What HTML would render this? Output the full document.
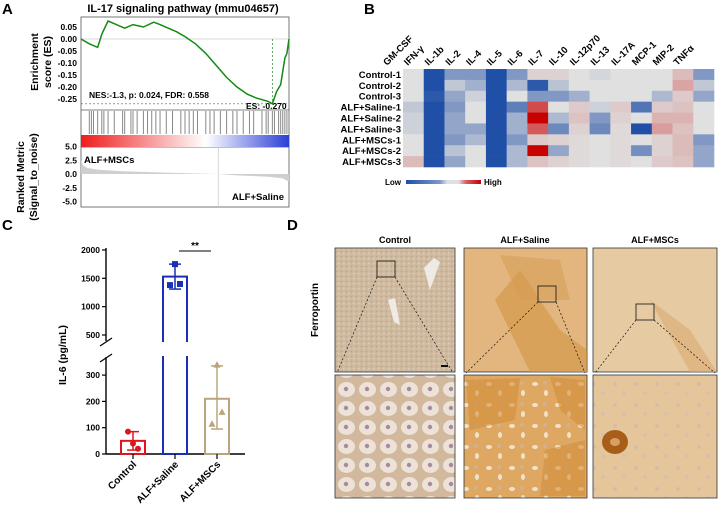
<!DOCTYPE html>
<html><head><meta charset="utf-8"><style>
body{margin:0;background:#fff;}
svg{display:block;font-family:"Liberation Sans",Arial,sans-serif;}
</style></head><body>
<svg id="fig" width="721" height="509" viewBox="0 0 721 509" xmlns="http://www.w3.org/2000/svg">
<defs>
<linearGradient id="rb" x1="0" x2="1"><stop offset="0" stop-color="#ee1c1c"/><stop offset="0.6" stop-color="#ffffff"/><stop offset="1" stop-color="#2b3fd6"/></linearGradient>
<linearGradient id="lg" x1="0" x2="1"><stop offset="0" stop-color="#1f4fa6"/><stop offset="0.45" stop-color="#7d97c9"/><stop offset="0.55" stop-color="#e0e0e0"/><stop offset="0.7" stop-color="#e0e0e0"/><stop offset="0.8" stop-color="#d96060"/><stop offset="1" stop-color="#c00000"/></linearGradient>
<pattern id="pCtl" width="21" height="19" patternUnits="userSpaceOnUse">
<rect width="21" height="19" fill="#d2b89c"/>
<ellipse cx="10.5" cy="9.5" rx="8.5" ry="7.5" fill="#ece2d8"/>
<circle cx="10" cy="9" r="2.2" fill="#a88a9c"/>
</pattern>
<pattern id="pSal" width="23" height="21" patternUnits="userSpaceOnUse">
<rect width="23" height="21" fill="#dfa862"/>
<ellipse cx="6" cy="6" rx="3" ry="2" fill="#f1e2cc"/>
<ellipse cx="17" cy="15" rx="2" ry="3" fill="#f1e2cc"/>
<circle cx="16" cy="5" r="2" fill="#d2b090"/>
</pattern>
<pattern id="pMsc" width="21" height="21" patternUnits="userSpaceOnUse">
<rect width="21" height="21" fill="#e5c69a"/>
<circle cx="6" cy="6" r="2" fill="#d6bca8"/>
<circle cx="15" cy="15" r="2" fill="#d8c0ac"/>
</pattern>
<pattern id="pCtlLow" width="5" height="5" patternUnits="userSpaceOnUse">
<rect width="5" height="5" fill="#cfbaa0"/><circle cx="1.5" cy="1.5" r="0.8" fill="#bda282"/><circle cx="3.8" cy="3.6" r="0.8" fill="#ddd0c0"/>
</pattern>
</defs>
<g font-weight="bold" font-size="15">
<text x="2" y="14">A</text>
<text x="364" y="14">B</text>
<text x="2" y="230">C</text>
<text x="287" y="230">D</text>
</g>
<g id="pa">
<text x="183" y="12" text-anchor="middle" font-weight="bold" font-size="11">IL-17 signaling pathway (mmu04657)</text>
<rect x="81" y="17" width="208" height="190" fill="none" stroke="#555" stroke-width="0.8"/>
<line x1="81" y1="110" x2="289" y2="110" stroke="#555" stroke-width="0.8"/>
<line x1="81" y1="147" x2="289" y2="147" stroke="#555" stroke-width="0.8"/>
<rect x="81" y="135" width="208" height="12" fill="url(#rb)"/>
<text x="44" y="62" transform="rotate(-90 44 62)" text-anchor="middle" font-weight="bold" font-size="10.5"><tspan x="44" dy="-6">Enrichment</tspan><tspan x="44" dy="13">score (ES)</tspan></text>
<text x="30" y="177" transform="rotate(-90 30 177)" text-anchor="middle" font-weight="bold" font-size="10.5"><tspan x="30" dy="-6">Ranked Metric</tspan><tspan x="30" dy="13">(Signal_to_noise)</tspan></text>
<g id="esAxis" font-weight="bold" font-size="8.5" text-anchor="end"></g>
<g id="rkAxis" font-weight="bold" font-size="8.5" text-anchor="end"></g>
<g id="hits"></g>
<path id="rankArea" fill="#cfcfcf"/>
<line id="zeroX" y1="147" y2="207" stroke="#ccc" stroke-width="0.8"/>
<line id="esZero" x1="81" x2="289" stroke="#ccc" stroke-width="0.8"/>
<line id="esMinH" x1="81" x2="289" stroke="#2a8a2a" stroke-width="0.7" stroke-dasharray="2,2"/>
<line id="esMinV" stroke="#2a8a2a" stroke-width="0.7" stroke-dasharray="2,2"/>
<polyline id="esLine" fill="none" stroke="#138a13" stroke-width="1.5"/>
<text x="89" y="98" font-weight="bold" font-size="8.5">NES:-1.3, p: 0.024, FDR: 0.558</text>
<text x="246" y="109" font-weight="bold" font-size="8.5">ES: -0.270</text>
<text x="84" y="163" font-weight="bold" font-size="9.5">ALF+MSCs</text>
<text x="284" y="200" text-anchor="end" font-weight="bold" font-size="9.5">ALF+Saline</text>
</g>
<g id="pb">
<g id="hmCells"></g><g id="hmCols" font-weight="bold" font-size="9.5"></g><g id="hmRows" font-weight="bold" font-size="9.5" text-anchor="end"></g>
<text x="385" y="185" font-weight="bold" font-size="8">Low</text>
<rect x="406" y="180" width="75" height="4" fill="url(#lg)"/>
<text x="484" y="185" font-weight="bold" font-size="8">High</text>
</g>
<g id="pc">
<text x="66" y="355" transform="rotate(-90 66 355)" text-anchor="middle" font-weight="bold" font-size="10.5">IL-6 (pg/mL)</text>
<g id="cAxis" font-weight="bold" font-size="8.5"></g>
<g id="cBars"></g>
<line x1="179" y1="251" x2="211" y2="251" stroke="#000" stroke-width="1"/>
<text x="195" y="249" text-anchor="middle" font-weight="bold" font-size="10">**</text>
</g>
<g id="pd">
<text x="318" y="310" transform="rotate(-90 318 310)" text-anchor="middle" font-weight="bold" font-size="10">Ferroportin</text>
<g font-weight="bold" font-size="9" text-anchor="middle">
<text x="395" y="243">Control</text>
<text x="525" y="243">ALF+Saline</text>
<text x="655" y="243">ALF+MSCs</text>
</g>
<rect x="335" y="248" width="120" height="124" fill="url(#pCtlLow)" stroke="#333" stroke-width="0.8"/>
<rect x="464" y="248" width="123" height="124" fill="#e2b67e" stroke="#333" stroke-width="0.8"/>
<rect x="593" y="248" width="124" height="124" fill="#e6caa2" stroke="#333" stroke-width="0.8"/>
<rect x="335" y="375" width="120" height="123" fill="url(#pCtl)" stroke="#333" stroke-width="0.8"/>
<rect x="464" y="375" width="123" height="123" fill="url(#pSal)" stroke="#333" stroke-width="0.8"/>
<rect x="593" y="375" width="124" height="123" fill="url(#pMsc)" stroke="#333" stroke-width="0.8"/>
<path d="M466 380 L520 378 L515 420 L470 430 Z M550 377 L585 380 L585 430 L560 410 Z M545 450 L585 440 L585 496 L540 496 Z" fill="#cf8a36" opacity="0.55"/>
<path d="M424 268 L434 258 L440 262 L430 290 Z M388 300 L395 298 L400 325 L394 322 Z" fill="#f0ede8" opacity="0.95"/>
<path d="M495 300 L520 270 L560 330 L587 350 L587 372 L530 372 Z" fill="#d29444" opacity="0.6"/>
<path d="M500 255 L560 260 L570 300 L520 300 Z" fill="#d59a50" opacity="0.5"/>
<path d="M650 300 L690 330 L717 372 L690 372 Z" fill="#d9aa70" opacity="0.6"/>
<ellipse cx="615" cy="442" rx="13" ry="12" fill="#a85e18"/><ellipse cx="615" cy="442" rx="5" ry="4" fill="#d8a060"/>
<g fill="none" stroke="#111" stroke-width="0.8">
<rect x="377" y="261" width="18" height="16"/><rect x="538" y="286" width="18" height="16"/><rect x="636" y="304" width="18" height="16"/>
</g>
<g stroke="#111" stroke-width="0.7" stroke-dasharray="2,2">
<line x1="377" y1="277" x2="337" y2="373"/><line x1="395" y1="277" x2="453" y2="373"/>
<line x1="538" y1="302" x2="466" y2="373"/><line x1="556" y1="302" x2="585" y2="373"/>
<line x1="636" y1="320" x2="595" y2="373"/><line x1="654" y1="320" x2="715" y2="373"/>
</g>
<rect x="441" y="365" width="7" height="2" fill="#111"/>
</g>
</svg>
<script>
// ---------- Panel A data ----------
const esX=[0,0.04,0.08,0.1,0.13,0.17,0.21,0.25,0.3,0.35,0.38,0.42,0.46,0.5,0.55,0.6,0.65,0.7,0.75,0.8,0.84,0.88,0.9,0.92,0.94,0.96,0.98,0.99,1.0];
const esY=[0,-0.02,-0.035,0.02,0.075,0.06,0.045,0.06,0.05,0.07,0.06,0.045,0.03,0.01,-0.02,-0.06,-0.11,-0.16,-0.2,-0.23,-0.245,-0.255,-0.26,-0.27,-0.22,-0.19,-0.08,-0.06,0.0];
const hitPos=[0.04,0.05,0.06,0.08,0.1,0.11,0.13,0.16,0.2,0.21,0.24,0.25,0.27,0.3,0.32,0.34,0.36,0.38,0.41,0.44,0.48,0.5,0.52,0.54,0.56,0.6,0.62,0.64,0.67,0.7,0.73,0.75,0.78,0.81,0.83,0.87,0.89,0.9,0.92,0.93,0.95,0.96,0.97,0.98,0.99];
const rankX=[0,0.01,0.03,0.08,0.2,0.4,0.6,0.66,0.75,0.9,0.97,0.99,1];
const rankY=[2.5,1.6,1.1,0.8,0.5,0.25,0.05,0,-0.25,-0.5,-0.8,-1.2,-1.3];
const esTicks=[0.05,0,-0.05,-0.1,-0.15,-0.2,-0.25];
const rkTicks=[5,2.5,0,-2.5,-5];
// ---------- Panel B data ----------
const hmCols=["GM-CSF","IFN-γ","IL-1b","IL-2","IL-4","IL-5","IL-6","IL-7","IL-10","IL-12p70","IL-13","IL-17A","MCP-1","MIP-2","TNFα"];
const hmRows=["Control-1","Control-2","Control-3","ALF+Saline-1","ALF+Saline-2","ALF+Saline-3","ALF+MSCs-1","ALF+MSCs-2","ALF+MSCs-3"];
const hmVals=[
[0,-3,-1.5,-1.5,-3,-1.5,0.2,0.2,0,-0.2,0,0,0,0.5,-1.5],
[0,-3,-0.5,-1,-3,-0.8,-2.8,-0.6,0,0,0,0,0,0.8,-0.5],
[0,-2.8,-1.2,-0.3,-3,0,-1.5,-1.5,-1,0,0,0,-0.8,0.3,-1.2],
[-0.5,-3,-1.5,0,-3,-2,2,0,0.3,-0.3,0.3,-2.2,0.3,0.4,0],
[-0.3,-3,-1.2,0,-3,-1,3,-0.8,0.4,-1.5,0.2,0,0.6,0.6,0],
[-0.3,-3,-1.2,-1.2,-3,-1,1.8,-1.8,0.2,-1.8,0.1,-3,0.9,0.4,0],
[0,-3,-1.5,-0.8,-3,-1.5,0.3,0.2,0.1,0,0.1,0,0.2,0.5,-1.5],
[0,-3,-0.6,0,-3,-0.8,3.2,-1.2,0.1,0,0.1,-1.7,0.2,0.5,-1.2],
[0.5,-3,-1.2,0,-3,-0.8,0.4,0.2,0.1,0,0.1,0,0.3,0.4,-1.2]];
// ---------- Panel C data ----------
const cCats=["Control","ALF+Saline","ALF+MSCs"];
const cMeans=[50,1530,210];
const cLow=[15,1310,95];
const cHigh=[85,1750,335];
const cPts=[[85,40,20],[1380,1750,1400],[115,340,160]];
const cLowTicks=[0,100,200,300];
const cHighTicks=[500,1000,1500,2000];

const NS="http://www.w3.org/2000/svg";
function mk(tag,attrs,parent){const e=document.createElementNS(NS,tag);for(const k in attrs)e.setAttribute(k,attrs[k]);parent.appendChild(e);return e;}
// Panel A
const ax=f=>81+f*208, ay=v=>39-v*240, ry=v=>174-v*5.5;
const esAxisG=document.getElementById('esAxis');
esTicks.forEach(t=>{const e=mk('text',{x:77,y:ay(t)+3},esAxisG);e.textContent=t.toFixed(2);

});
const rkAxisG=document.getElementById('rkAxis');
rkTicks.forEach(t=>{const e=mk('text',{x:77,y:ry(t)+3},rkAxisG);e.textContent=t.toFixed(1);

});
const hitsG=document.getElementById('hits');
hitPos.forEach(p=>{const l=mk('line',{x1:ax(p),x2:ax(p),y1:111,y2:134,stroke:'#888','stroke-width':1},hitsG);

});
let d='M'+ax(0)+' '+ry(0);rankX.forEach((x,i)=>d+=' L'+ax(x)+' '+ry(rankY[i]));d+=' L'+ax(1)+' '+ry(0)+' Z';
document.getElementById('rankArea').setAttribute('d',d);
let zc=0.66;for(let i=1;i<rankX.length;i++){if(rankY[i-1]>=0&&rankY[i]<=0){zc=rankX[i];break;}}
const zx=document.getElementById('zeroX');zx.setAttribute('x1',ax(zc));zx.setAttribute('x2',ax(zc));
const ez=document.getElementById('esZero');ez.setAttribute('y1',ay(0));ez.setAttribute('y2',ay(0));
document.getElementById('esLine').setAttribute('points',esX.map((x,i)=>ax(x)+','+ay(esY[i])).join(' '));
let mi=0;esY.forEach((v,i)=>{if(v<esY[mi])mi=i;});
const eh=document.getElementById('esMinH');eh.setAttribute('y1',ay(esY[mi]));eh.setAttribute('y2',ay(esY[mi]));
const ev=document.getElementById('esMinV');ev.setAttribute('x1',ax(esX[mi]));ev.setAttribute('x2',ax(esX[mi]));ev.setAttribute('y1',ay(0));ev.setAttribute('y2',ay(esY[mi]));
// Panel B
function col(v){const t=Math.max(-1,Math.min(1,v/3));const g=[224,224,224];let c;
if(t<0){const b=[31,79,166];c=g.map((x,i)=>x+(b[i]-x)*(-t));}else{const r=[200,0,0];c=g.map((x,i)=>x+(r[i]-x)*t);}
return 'rgb('+c.map(Math.round).join(',')+')';}
const hx0=403,hy0=69,cw=311/15,ch=98/9;
const cellsG=document.getElementById('hmCells');
hmVals.forEach((row,r)=>row.forEach((v,c)=>{const e=mk('rect',{x:hx0+c*cw,y:hy0+r*ch,width:cw+0.3,height:ch+0.3,fill:col(v)},cellsG);

}));
const hcG=document.getElementById('hmCols');
hmCols.forEach((n,c)=>{const x=hx0+c*cw-16,y=66;const e=mk('text',{x:x,y:y,transform:'rotate(-45 '+x+' '+y+')'},hcG);e.textContent=n;

});
const hrG=document.getElementById('hmRows');
hmRows.forEach((n,r)=>{const e=mk('text',{x:401,y:hy0+r*ch+ch/2+3.5},hrG);e.textContent=n;

});
// Panel C
const yL=v=>454-v*0.263, yH=v=>335-(v-500)*0.0567;
const cy=v=>v<=350?yL(v):yH(Math.max(v,420));
const caG=document.getElementById('cAxis');
mk('line',{x1:106,y1:454,x2:106,y2:357,stroke:'#000','stroke-width':1.4},caG);
mk('line',{x1:106,y1:341,x2:106,y2:248,stroke:'#000','stroke-width':1.4},caG);
mk('line',{x1:100,y1:362,x2:112,y2:354,stroke:'#000','stroke-width':1.2},caG);
mk('line',{x1:100,y1:346,x2:112,y2:338,stroke:'#000','stroke-width':1.2},caG);
mk('line',{x1:106,y1:454,x2:245,y2:454,stroke:'#000','stroke-width':1.4},caG);
cLowTicks.forEach(t=>{mk('line',{x1:102,x2:106,y1:yL(t),y2:yL(t),stroke:'#000','stroke-width':1.2},caG);const e=mk('text',{x:100,y:yL(t)+3,'text-anchor':'end'},caG);e.textContent=t;

});
cHighTicks.forEach(t=>{mk('line',{x1:102,x2:106,y1:yH(t),y2:yH(t),stroke:'#000','stroke-width':1.2},caG);const e=mk('text',{x:100,y:yH(t)+3,'text-anchor':'end'},caG);e.textContent=t;

});
const colors=['#e0141e','#1a2fb8','#b8a57c'],marks=['circle','square','triangle'];
const cbG=document.getElementById('cBars');
cCats.forEach((n,i)=>{const xc=133+i*42;const top=cy(cMeans[i]);
const b=mk('rect',{x:xc-12,y:top,width:24,height:454-top,fill:'none',stroke:colors[i],'stroke-width':2},cbG);


if(cMeans[i]>350){mk('rect',{x:xc-14,y:342,width:28,height:14,fill:'#fff'},cbG);}
mk('line',{x1:xc,x2:xc,y1:cy(cLow[i]),y2:cy(cHigh[i]),stroke:colors[i],'stroke-width':1.5},cbG);
[cLow[i],cHigh[i]].forEach(v=>mk('line',{x1:xc-6,x2:xc+6,y1:cy(v),y2:cy(v),stroke:colors[i],'stroke-width':1.5},cbG));
cPts[i].forEach((v,k)=>{const px=xc+(k-1)*5,py=cy(v);let p;
if(marks[i]==='circle')p=mk('circle',{cx:px,cy:py,r:3,fill:colors[i]},cbG);
else if(marks[i]==='square')p=mk('rect',{x:px-3,y:py-3,width:6,height:6,fill:colors[i]},cbG);
else p=mk('path',{d:'M'+px+' '+(py-3.5)+' L'+(px+3.5)+' '+(py+3)+' L'+(px-3.5)+' '+(py+3)+' Z',fill:colors[i]},cbG);

});
mk('line',{x1:xc,x2:xc,y1:454,y2:459,stroke:'#000','stroke-width':1.2},cbG);
const t=mk('text',{x:xc+4,y:465,transform:'rotate(-45 '+(xc+4)+' 465)','text-anchor':'end','font-weight':'bold','font-size':'10'},cbG);t.textContent=n;

});
</script>
</body></html>
